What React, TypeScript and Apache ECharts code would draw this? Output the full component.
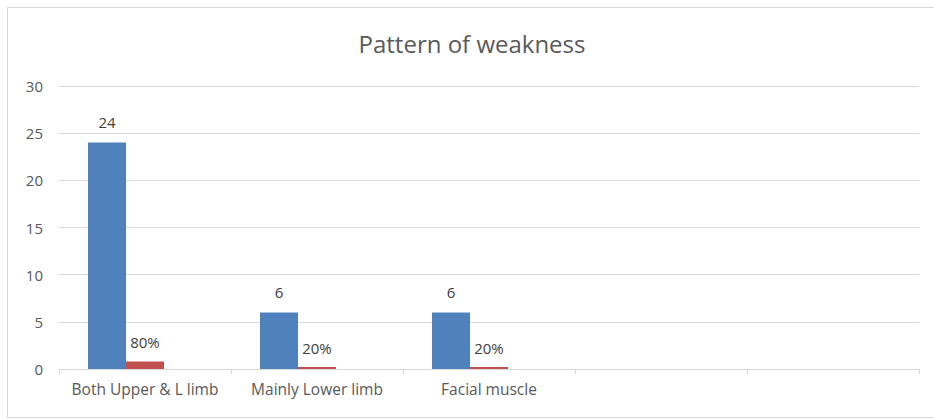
import React, { useEffect, useRef } from "react";
import * as echarts from "echarts";

// Categories along the x axis (the last two slots are empty)
const categories = ["Both Upper & L limb", "Mainly Lower limb", "Facial muscle", "", ""];
// Patient counts per weakness pattern
const counts = [24, 6, 6, null, null];
// Share of patients per pattern (fractions, labelled as percentages)
const shares = [0.8, 0.2, 0.2, null, null];
// Y axis ticks
const yMin = 0;
const yMax = 30;
const yStep = 5;

const FONT = "'Open Sans', 'Noto Sans', sans-serif";

export default function App() {
  const ref = useRef<HTMLDivElement>(null);

  useEffect(() => {
    if (!ref.current) return;
    const chart = echarts.init(ref.current, null, { renderer: "svg" });
    chart.setOption({
      animation: false,
      textStyle: { fontFamily: FONT },
      graphic: [
        {
          type: "rect",
          shape: { x: 7.5, y: 7.5, width: 960, height: 410 },
          style: { fill: "none", stroke: "#d9d9d9", lineWidth: 1 },
          silent: true,
        },
        {
          type: "text",
          x: 472,
          y: 43,
          style: {
            text: "Pattern of weakness",
            fontFamily: FONT,
            fontSize: 24,
            fill: "#595959",
            align: "center",
            verticalAlign: "middle",
          },
          silent: true,
        },
      ],
      grid: { left: 59, right: 15, top: 86, bottom: 50, containLabel: false },
      xAxis: {
        type: "category",
        data: categories,
        axisLine: { lineStyle: { color: "#d9d9d9" } },
        axisTick: {
          show: true,
          interval: 0,
          alignWithLabel: false,
          length: 5,
          lineStyle: { color: "#d9d9d9" },
        },
        axisLabel: {
          interval: 0,
          hideOverlap: false,
          color: "#595959",
          fontSize: 15.5,
          margin: 12,
          fontFamily: FONT,
        },
      },
      yAxis: {
        type: "value",
        min: yMin,
        max: yMax,
        interval: yStep,
        axisLine: { show: false },
        axisTick: { show: false },
        axisLabel: { color: "#595959", fontSize: 15, margin: 16, fontFamily: FONT },
        splitLine: { lineStyle: { color: "#d9d9d9" } },
      },
      series: [
        {
          type: "bar",
          data: counts,
          barWidth: 38,
          barGap: "0%",
          itemStyle: { color: "#4F81BD" },
          label: {
            show: true,
            position: "top",
            distance: 13,
            color: "#404040",
            fontSize: 15,
            fontFamily: FONT,
          },
        },
        {
          type: "bar",
          data: shares,
          barWidth: 38,
          barGap: "0%",
          itemStyle: { color: "#C0504D" },
          label: {
            show: true,
            position: "top",
            distance: 12,
            color: "#404040",
            fontSize: 15,
            fontFamily: FONT,
            formatter: (p: any) => `${Math.round(p.value * 100)}%`,
          },
        },
        {
          // empty third slot in each group
          type: "bar",
          data: [null, null, null, null, null],
          barWidth: 38,
          barGap: "0%",
          itemStyle: { color: "#9BBB59" },
        },
      ],
    });
    return () => chart.dispose();
  }, []);

  return (
    <div
      ref={ref}
      style={{ position: "fixed", left: 0, top: 0, width: 934, height: 419, background: "#fff" }}
    />
  );
}
